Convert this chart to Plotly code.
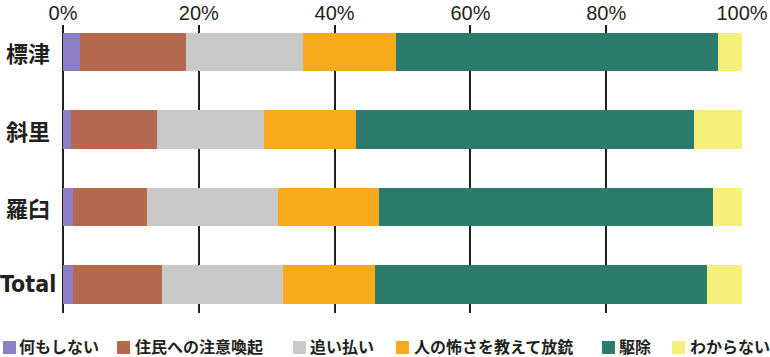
import plotly.graph_objects as go

# ---- data ----
categories = ["標津", "斜里", "羅臼", "Total"]
series_names = ["何もしない", "住民への注意喚起", "追い払い", "人の怖さを教えて放銃", "駆除", "わからない"]
nothing    = [2.5, 1.2, 1.4, 1.4]
warn       = [15.6, 12.7, 11.0, 13.2]
chase      = [17.2, 15.7, 19.3, 17.8]
release    = [13.7, 13.6, 14.8, 13.6]
cull       = [47.4, 49.8, 49.3, 48.9]
unknown    = [3.6, 7.0, 4.2, 5.1]
series_values = [nothing, warn, chase, release, cull, unknown]
x_ticks = [0, 20, 40, 60, 80, 100]
x_tick_labels = ["0%", "20%", "40%", "60%", "80%", "100%"]

# ---- styles ----
colors = ["#8d7fc6", "#b5694f", "#c9c9c9", "#f6aa1c", "#2c7c6d", "#f5ef7b"]
ink = "#231f20"
W, H = 770, 357
L, R, T, B = 63, 28, 25, 44
pw, ph = W - L - R, H - T - B

def px_x(p):
    return (p - L) / pw

def px_y(p):
    return (H - B - p) / ph

fig = go.Figure()
for name, vals, col in zip(series_names, series_values, colors):
    fig.add_trace(go.Bar(
        y=categories, x=vals, name=name, orientation="h",
        marker=dict(color=col, line=dict(width=0)),
        width=0.5, showlegend=False,
        hovertemplate="%{y} " + name + ": %{x}%<extra></extra>",
    ))

annotations = []
# category labels (centered in the left margin)
for c in categories:
    is_latin = c.isascii()
    annotations.append(dict(
        x=px_x(28), xref="paper", y=c, yref="y", text=c, showarrow=False,
        xanchor="center", yanchor="middle",
        font=dict(
            family=("Liberation Sans Narrow, DejaVu Sans Condensed, Roboto Condensed, Liberation Sans" if is_latin
                    else "Noto Sans CJK JP"),
            size=23 if is_latin else 22, color=ink, weight="bold"),
    ))

# manual legend
legend_sq_left = [3, 117, 293, 396, 602, 672]
legend_txt_left = [17, 133, 308, 412, 617, 688]
sq_size = 13
legend_cy = 345.5
sq_cy = 347.5
shapes = []
for name, col, sx, tx in zip(series_names, colors, legend_sq_left, legend_txt_left):
    shapes.append(dict(
        type="rect", xref="paper", yref="paper",
        x0=px_x(sx), x1=px_x(sx + sq_size),
        y0=px_y(sq_cy + sq_size / 2), y1=px_y(sq_cy - sq_size / 2),
        fillcolor=col, line=dict(width=0), layer="above",
    ))
    annotations.append(dict(
        x=px_x(tx), xref="paper", y=px_y(legend_cy), yref="paper",
        text=name, showarrow=False, xanchor="left", yanchor="middle",
        font=dict(family="Noto Sans CJK JP", size=16, color=ink, weight="bold"),
    ))

fig.update_layout(
    width=W, height=H,
    margin=dict(l=L, r=R, t=T, b=B, pad=0),
    barmode="stack",
    plot_bgcolor="white", paper_bgcolor="white",
    showlegend=False,
    xaxis=dict(
        side="top", range=[0, 100], tickvals=x_ticks, ticktext=x_tick_labels,
        showgrid=True, gridcolor=ink, gridwidth=1.5,
        zeroline=True, zerolinecolor=ink, zerolinewidth=2,
        showline=False, ticks="", automargin=False,
        tickfont=dict(family="Liberation Sans, Arial", size=20, color=ink),
        fixedrange=True,
    ),
    yaxis=dict(
        type="category", categoryorder="array", categoryarray=categories,
        range=[3.37, -0.35], showticklabels=False, showgrid=False,
        zeroline=False, showline=False, fixedrange=True, automargin=False,
    ),
    annotations=annotations,
    shapes=shapes,
)

fig.write_html(
    "out.html",
    config={"displayModeBar": False},
    post_script="document.body.style.margin='0';document.body.style.overflow='hidden';",
)
